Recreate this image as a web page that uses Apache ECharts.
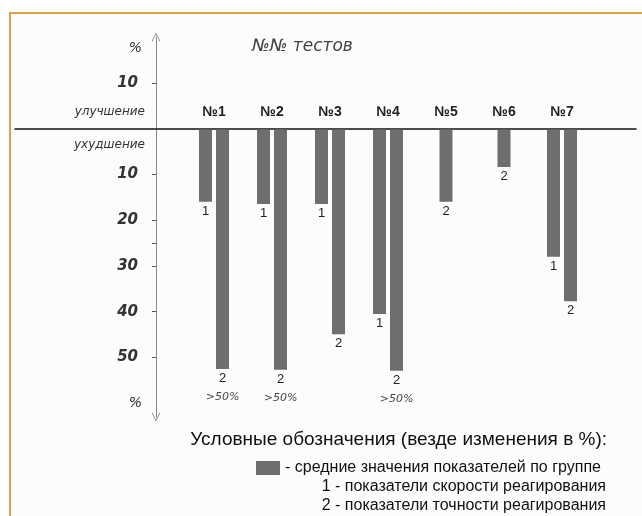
<!DOCTYPE html>
<html>
<head>
<meta charset="utf-8">
<script src="https://cdn.jsdelivr.net/npm/echarts@6/dist/echarts.min.js"></script>
<style>
  html, body { margin: 0; padding: 0; background: #fff; }
  #frame { position: absolute; left: 9px; top: 12px; width: 633px; height: 504px;
           border-top: 2px solid #dda143; border-left: 2px solid #dda143; background: #fcfcfc; }
  #chart { position: absolute; left: 0; top: 0; width: 642px; height: 516px; }
</style>
</head>
<body>
<div id="frame"></div>
<div id="chart"></div>
<script>
// номера тестов
const tests = ["№1", "№2", "№3", "№4", "№5", "№6", "№7"];
// 1 - скорость реагирования, изменение в % (минус = ухудшение)
const speed = [-16, -16.5, -16.5, -40.5, null, null, -28];
// 2 - точность реагирования
const accuracy = [-52.5, -52.7, -44.9, -52.9, -16, -8.4, -37.7];
// подписи оси Y
const yTickValues = [10, -10, -20, -25, -30, -40, -50];
const yLabelValues = [17.6, 10, 3.6, -3.6, -10, -20, -30, -40, -50, -60];
const yLabelTexts = ["%", "10", "улучшение", "ухудшение", "10", "20", "30", "40", "50", "%"];

const barColor = "#6e6e6e";
const yMin = -63, yMax = 20;

const chart = echarts.init(document.getElementById("chart"));

function makeRender(which) {
  return function (params, api) {
    const i = api.value(0);
    const v = api.value(1);
    const zero = api.coord([i, 0]);
    const end = api.coord([i, v]);
    const paired = speed[i] != null && accuracy[i] != null;
    const dx = paired ? (which === 1 ? -8.5 : 8.5) : 0;
    const w = 13;
    const x = zero[0] + dx;
    const children = [
      {
        type: "rect",
        shape: { x: x - w / 2, y: zero[1] + 1, width: w, height: end[1] - zero[1] - 1 },
        style: { fill: barColor }
      },
      {
        type: "text",
        style: {
          text: String(which), x: x, y: end[1] + 3,
          textAlign: "center", textVerticalAlign: "top",
          font: "13px 'Liberation Sans'", fill: "#222"
        }
      }
    ];
    if (v < -50) {
      children.push({
        type: "text",
        style: {
          text: ">50%", x: x, y: end[1] + 23,
          textAlign: "center", textVerticalAlign: "top",
          font: "italic 11px 'DejaVu Sans'", fill: "#444"
        }
      });
    }
    return { type: "group", children: children };
  };
}

function toData(arr) {
  const out = [];
  arr.forEach(function (v, i) { if (v != null) out.push([i, v]); });
  return out;
}

chart.setOption({
  animation: false,
  title: [
    { text: "№№ тестов", left: 252, top: 38, padding: 0,
      textStyle: { fontFamily: "DejaVu Sans", fontStyle: "italic", fontWeight: "normal", fontSize: 17, color: "#444" } },
    { text: "Условные обозначения (везде изменения в %):", right: 35, top: 430, padding: 0,
      textStyle: { fontFamily: "Liberation Sans", fontWeight: "normal", fontSize: 19, color: "#111" } },
    { text: "1 - показатели скорости реагирования", right: 36, top: 479, padding: 0,
      textStyle: { fontFamily: "Liberation Sans", fontWeight: "normal", fontSize: 16, color: "#111" } },
    { text: "2 - показатели точности реагирования", right: 36, top: 498, padding: 0,
      textStyle: { fontFamily: "Liberation Sans", fontWeight: "normal", fontSize: 16, color: "#111" } }
  ],
  legend: {
    data: ["- средние значения показателей по группе"],
    left: 256, top: 460, padding: 0,
    icon: "rect", itemWidth: 24, itemHeight: 14,
    selectedMode: false,
    textStyle: { fontFamily: "Liberation Sans", fontSize: 16, color: "#111" }
  },
  grid: [
    // столбцы
    { left: 185, right: 51, top: 37, bottom: 99 },
    // линия нуля на всю ширину
    { left: 15, right: 6, top: 37, bottom: 99 },
    // подписи тестов над линией нуля
    { left: 185, right: 51, top: 129, bottom: 99 }
  ],
  xAxis: [
    {
      type: "category", gridIndex: 0, data: tests,
      axisLine: { show: false }, axisTick: { show: false }, axisLabel: { show: false }
    },
    {
      type: "value", gridIndex: 1, min: 0, max: 1,
      axisLine: { show: true, onZero: true, lineStyle: { color: "#111", width: 1.5 } },
      axisTick: { show: false }, axisLabel: { show: false }, splitLine: { show: false }
    },
    {
      type: "category", gridIndex: 2, data: tests, position: "top",
      axisLine: { show: false, onZero: false }, axisTick: { show: false },
      axisLabel: { margin: 10, fontFamily: "Liberation Sans", fontWeight: "bold", fontSize: 14, color: "#222" }
    }
  ],
  yAxis: [
    {
      type: "value", gridIndex: 0, min: yMin, max: yMax, offset: 29,
      axisLine: {
        show: true,
        symbol: ["path://M0,10 L5,0 L10,10 L9,10 L5,2 L1,10 Z", "path://M0,10 L5,0 L10,10 L9,10 L5,2 L1,10 Z"],
        symbolSize: [9, 9],
        lineStyle: { color: "#888", width: 1 }
      },
      axisTick: { show: true, length: 4, customValues: yTickValues, lineStyle: { color: "#555" } },
      splitLine: { show: false },
      axisLabel: {
        margin: 11,
        customValues: yLabelValues,
        formatter: function (v) {
          const k = yLabelValues.indexOf(v);
          const t = yLabelTexts[k];
          if (t === "%") return "{p|%}";
          if (isNaN(Number(t))) return "{w|" + t + "}";
          return "{n|" + t + "}";
        },
        rich: {
          n: { fontFamily: "DejaVu Sans", fontStyle: "italic", fontWeight: "bold", fontSize: 15, color: "#333", padding: [0, 7, 0, 0] },
          w: { fontFamily: "DejaVu Sans", fontStyle: "italic", fontSize: 12, color: "#333" },
          p: { fontFamily: "DejaVu Sans", fontStyle: "italic", fontSize: 14, color: "#333", padding: [0, 3, 0, 0] }
        }
      }
    },
    { type: "value", gridIndex: 1, min: yMin, max: yMax, show: false },
    { type: "value", gridIndex: 2, show: false }
  ],
  series: [
    {
      name: "- средние значения показателей по группе",
      type: "custom", xAxisIndex: 0, yAxisIndex: 0,
      itemStyle: { color: barColor },
      encode: { x: 0, y: 1 },
      renderItem: makeRender(1),
      data: toData(speed)
    },
    {
      name: "- средние значения показателей по группе",
      type: "custom", xAxisIndex: 0, yAxisIndex: 0,
      itemStyle: { color: barColor },
      encode: { x: 0, y: 1 },
      renderItem: makeRender(2),
      data: toData(accuracy)
    }
  ]
});
</script>
</body>
</html>
